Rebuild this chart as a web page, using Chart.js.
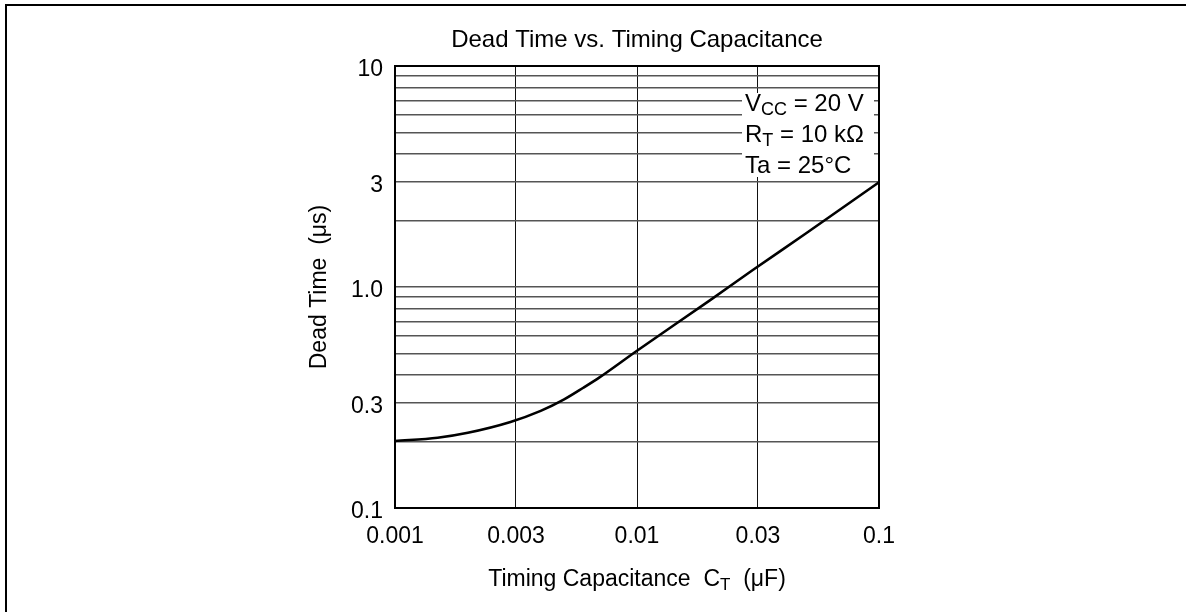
<!DOCTYPE html>
<html><head><meta charset="utf-8">
<script src="https://cdn.jsdelivr.net/npm/chart.js@4.4.1/dist/chart.umd.min.js"></script>
<style>html,body{margin:0;padding:0;background:#fff;}#wrap{width:1186px;height:612px;}</style>
</head><body><div id="wrap"><canvas id="c" width="1186" height="612"></canvas></div>
<script>
// ---- data ----
const capacitance = [0.001, 0.0015, 0.002, 0.003, 0.004, 0.005, 0.006, 0.007, 0.01, 0.02, 0.03, 0.05, 0.1];
const deadTime    = [0.201, 0.208, 0.219, 0.245, 0.275, 0.31, 0.35, 0.39, 0.515, 0.87, 1.19, 1.75, 2.98];
const xTickValues = [0.001, 0.003162, 0.01, 0.03162, 0.1];
const xTickLabels = ['0.001', '0.003', '0.01', '0.03', '0.1'];
const yGridValues = [0.1,0.2,0.3,0.4,0.5,0.6,0.7,0.8,0.9,1,2,3,4,5,6,7,8,9,10];
const yLabelValues = [0.1, 0.3, 1, 3, 10];
const yLabelTexts  = ['0.1', '0.3', '1.0', '3', '10'];
const titleText = 'Dead Time vs. Timing Capacitance';
const yTitleText = 'Dead Time  (\u03bcs)';
const xTitleParts = [['Timing Capacitance  C', false], ['T', true], ['  (\u03bcF)', false]];
const conditionLines = [
  [['V', false], ['CC', true], [' = 20 V', false]],
  [['R', false], ['T', true], [' = 10 k\u03a9', false]],
  [['Ta = 25\u00b0C', false]]
];

const FONT = '"Liberation Sans", Arial, Helvetica, sans-serif';

function drawRich(ctx, parts, x, y, size, subSize, align) {
  let total = 0;
  const widths = parts.map(([t, sub]) => {
    ctx.font = (sub ? subSize : size) + 'px ' + FONT;
    const w = ctx.measureText(t).width; total += w; return w;
  });
  let cx = align === 'center' ? x - total / 2 : x;
  ctx.textAlign = 'left';
  ctx.textBaseline = 'alphabetic';
  parts.forEach(([t, sub], i) => {
    ctx.font = (sub ? subSize : size) + 'px ' + FONT;
    ctx.fillText(t, cx, sub ? y + 4 : y);
    cx += widths[i];
  });
}

const decor = {
  id: 'decor',
  beforeDraw(chart) {
    const ctx = chart.ctx;
    ctx.save();
    ctx.fillStyle = '#fff';
    ctx.fillRect(0, 0, chart.width, chart.height);
    ctx.fillStyle = '#000';
    ctx.fillRect(5, 4, chart.width - 5, 2);
    ctx.fillRect(5, 4, 2, chart.height - 4);
    ctx.restore();
  },
  afterDraw(chart) {
    const ctx = chart.ctx;
    const a = chart.chartArea;
    ctx.save();
    // condition box
    ctx.fillStyle = '#fff';
    ctx.fillRect(742, 93, 132, 84);
    ctx.fillStyle = '#000';
    conditionLines.forEach((parts, i) => drawRich(ctx, parts, 745, 111 + i * 31, 24, 18, 'left'));
    // plot frame
    ctx.strokeStyle = '#000';
    ctx.lineWidth = 2;
    ctx.strokeRect(a.left, a.top, a.right - a.left, a.bottom - a.top);
    // title
    ctx.font = '24px ' + FONT;
    ctx.textAlign = 'center';
    ctx.textBaseline = 'middle';
    ctx.fillText(titleText, (a.left + a.right) / 2, 40);
    // x title
    drawRich(ctx, xTitleParts, (a.left + a.right) / 2, 586, 23, 17, 'center');
    // y title
    ctx.translate(320, (a.top + a.bottom) / 2);
    ctx.rotate(-Math.PI / 2);
    ctx.font = '23px ' + FONT;
    ctx.textAlign = 'center';
    ctx.textBaseline = 'middle';
    ctx.fillText(yTitleText, 0, 0);
    ctx.restore();
  }
};

new Chart(document.getElementById('c'), {
  type: 'line',
  data: {
    datasets: [{
      data: capacitance.map((c, i) => ({ x: c, y: deadTime[i] })),
      borderColor: '#000',
      borderWidth: 2.6,
      pointRadius: 0,
      fill: false,
      cubicInterpolationMode: 'monotone'
    }]
  },
  options: {
    responsive: false,
    animation: false,
    devicePixelRatio: 1,
    layout: { padding: { left: 335, right: 307, top: 66, bottom: 64 } },
    plugins: { legend: { display: false }, tooltip: { enabled: false }, title: { display: false } },
    scales: {
      x: {
        type: 'logarithmic',
        min: 0.001, max: 0.1,
        afterBuildTicks: s => { s.ticks = xTickValues.map(v => ({ value: v })); },
        afterFit: s => { s.height = 40; },
        ticks: {
          autoSkip: false, maxRotation: 0, minRotation: 0, padding: 15, color: '#000',
          font: { family: FONT, size: 23 },
          callback: (v, i) => xTickLabels[i]
        },
        grid: { color: '#111', lineWidth: 1, drawTicks: false },
        border: { display: false }
      },
      y: {
        type: 'logarithmic',
        min: 0.1, max: 10,
        afterBuildTicks: s => { s.ticks = yGridValues.map(v => ({ value: v })); },
        afterFit: s => { s.width = 60; },
        ticks: {
          autoSkip: false, padding: 12, color: '#000', labelOffset: 4,
          font: { family: FONT, size: 23 },
          callback: (v) => {
            const k = yLabelValues.findIndex(t => Math.abs(t - v) / t < 1e-6);
            return k >= 0 ? yLabelTexts[k] : '';
          }
        },
        grid: { color: '#555', lineWidth: 1.4, drawTicks: false },
        border: { display: false }
      }
    }
  },
  plugins: [decor]
});
</script>
</body></html>
